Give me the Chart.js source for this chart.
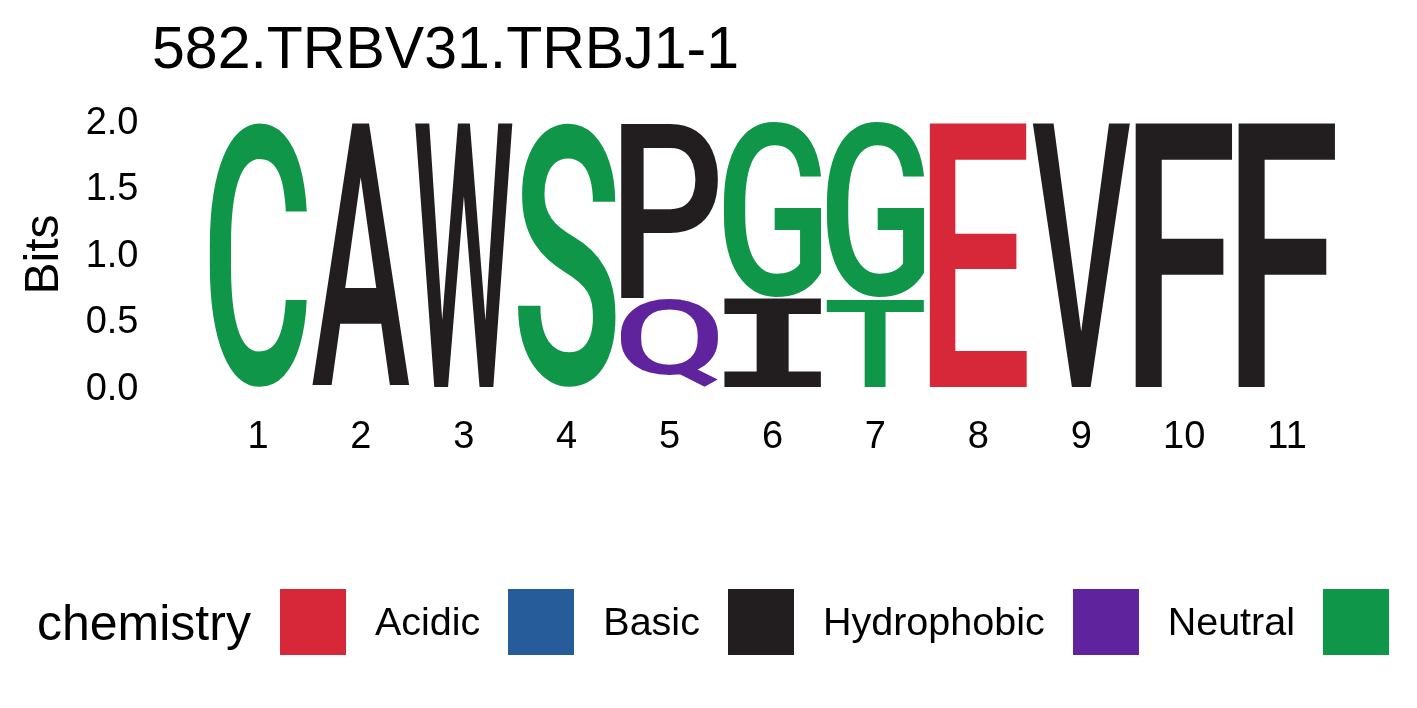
<!DOCTYPE html>
<html>
<head>
<meta charset="utf-8">
<script src="https://cdn.jsdelivr.net/npm/chart.js@4.4.1/dist/chart.umd.min.js"></script>
<style>
  html, body { margin: 0; padding: 0; background: #fff; overflow: hidden; }
  body { width: 1417px; height: 708px; position: relative; font-family: 'Liberation Sans', Arial, sans-serif; }
  #wrap { position: absolute; left: 0; top: 0; width: 1417px; height: 708px; }
  #title { position: absolute; left: 152px; top: 19px; font-size: 59px; line-height: 1; color: #000; white-space: nowrap; }
  #legend { position: absolute; left: 37px; top: 589px; height: 66px; display: flex; align-items: center; white-space: nowrap; }
  #legend .head { font-size: 50px; line-height: 1; margin-right: 29px; position: relative; top: 1px; }
  #legend .sw { width: 66px; height: 66px; margin-right: 29px; }
  #legend .lab { font-size: 39.5px; line-height: 1; margin-right: 28px; }
</style>
</head>
<body>
<div id="wrap"><canvas id="logoChart"></canvas></div>
<div id="title">582.TRBV31.TRBJ1-1</div>
<div id="legend"></div>
<script>
// sequence positions along the x axis
const positions = ['1', '2', '3', '4', '5', '6', '7', '8', '9', '10', '11'];

// lower letter in each column and its height in bits
const baseLetters = ['C', 'A', 'W', 'S', 'Q', 'I', 'T', 'E', 'V', 'F', 'F'];
const baseBits = [2.0, 2.0, 2.0, 2.0, 0.67, 0.67, 0.67, 2.0, 2.0, 2.0, 2.0];

// letter stacked on top (only where the column is mixed)
const topLetters = ['', '', '', '', 'P', 'G', 'G', '', '', '', ''];
const topBits = [0, 0, 0, 0, 1.33, 1.33, 1.33, 0, 0, 0, 0];

const yTicks = [0, 0.5, 1.0, 1.5, 2.0];

// chemistry classes (legend order) and colours
const chemistryClasses = ['Acidic', 'Basic', 'Hydrophobic', 'Neutral', 'Polar'];
const chemistryColors = ['#D62839', '#255C99', '#221E1F', '#5E239D', '#109648'];
const chemistryLetters = ['DE', 'KRH', 'PAWFLIMV', 'QN', 'GSTYC'];

function letterColor(letter) {
    const idx = chemistryLetters.findIndex(s => s.includes(letter));
    return idx >= 0 ? chemistryColors[idx] : '#000';
}

// legend
const legendEl = document.getElementById('legend');
legendEl.innerHTML = '<span class="head">chemistry</span>';
chemistryClasses.forEach((name, i) => {
    const sw = document.createElement('div');
    sw.className = 'sw';
    sw.style.background = chemistryColors[i];
    legendEl.appendChild(sw);
    if (name !== 'Polar') {   // last label runs off the page in the original
        const lab = document.createElement('span');
        lab.className = 'lab';
        lab.textContent = name;
        legendEl.appendChild(lab);
    }
});

// draws each bar as a letter stretched to fill it
const letterPlugin = {
    id: 'letters',
    afterDatasetsDraw(chart) {
        const ctx = chart.ctx;
        chart.data.datasets.forEach((ds, i) => {
            const meta = chart.getDatasetMeta(i);
            meta.data.forEach((bar, j) => {
                const letter = ds.letters[j];
                if (!letter || !ds.data[j]) return;
                const p = bar.getProps(['x', 'y', 'base', 'width'], true);
                const left = p.x - p.width / 2;
                const top = Math.min(p.y, p.base) + 0.6;
                const h = Math.abs(p.base - p.y) - 1.2;
                ctx.save();
                ctx.font = letter === 'I' ? 'bold 200px "DejaVu Sans Mono"' : '500 200px Roboto';
                ctx.textAlign = 'left';
                ctx.textBaseline = 'alphabetic';
                const m = ctx.measureText(letter);
                const gw = m.actualBoundingBoxLeft + m.actualBoundingBoxRight;
                const gh = m.actualBoundingBoxAscent + m.actualBoundingBoxDescent;
                ctx.translate(left, top);
                ctx.scale(p.width / gw, h / gh);
                ctx.fillStyle = letterColor(letter);
                ctx.fillText(letter, m.actualBoundingBoxLeft, m.actualBoundingBoxAscent);
                ctx.restore();
            });
        });
    }
};

const tickFont = { family: "'Liberation Sans', Arial, sans-serif", size: 38 };

new Chart(document.getElementById('logoChart').getContext('2d'), {
    type: 'bar',
    data: {
        labels: positions,
        datasets: [
            { data: baseBits, letters: baseLetters, backgroundColor: 'rgba(0,0,0,0)', borderWidth: 0 },
            { data: topBits, letters: topLetters, backgroundColor: 'rgba(0,0,0,0)', borderWidth: 0 }
        ]
    },
    options: {
        responsive: true,
        maintainAspectRatio: false,
        animation: false,
        barPercentage: 0.95,
        categoryPercentage: 1.0,
        layout: { padding: { left: 0, right: 78.5, top: 121.5, bottom: 0 } },
        scales: {
            x: {
                stacked: true,
                grid: { display: false },
                border: { display: false },
                ticks: { color: '#000', font: tickFont, padding: 19, maxRotation: 0 },
                afterFit(scale) { scale.height = 708 - 387.5; }
            },
            y: {
                stacked: true,
                min: 0,
                max: 2,
                grid: { display: false },
                border: { display: false },
                afterBuildTicks(scale) { scale.ticks = yTicks.map(v => ({ value: v })); },
                ticks: { color: '#000', font: tickFont, padding: 60, labelOffset: 2, callback: v => Number(v).toFixed(1) },
                title: {
                    display: true,
                    text: 'Bits',
                    color: '#000',
                    font: { family: "'Liberation Sans', Arial, sans-serif", size: 48 },
                    padding: { top: 16, bottom: 0 }
                },
                afterFit(scale) { scale.width = 206.5; }
            }
        },
        plugins: {
            legend: { display: false },
            tooltip: { enabled: false }
        }
    },
    plugins: [letterPlugin]
});
</script>
</body>
</html>
